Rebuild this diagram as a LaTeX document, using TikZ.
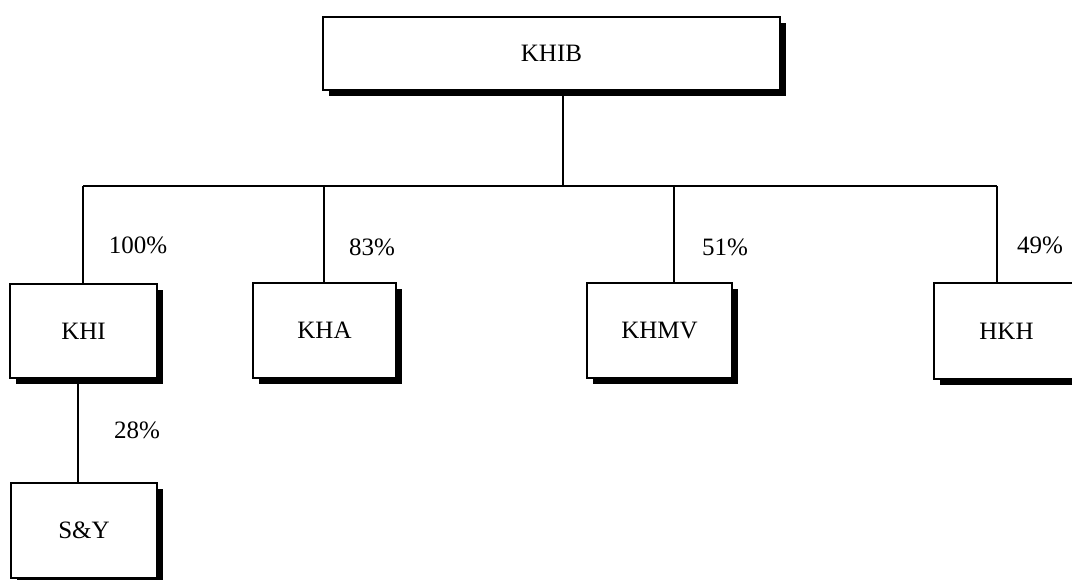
\documentclass[tikz,border=0pt]{standalone}
\usepackage{fontspec}
\setmainfont{Liberation Serif}
\usetikzlibrary{shadows}
\begin{document}
\begin{tikzpicture}[x=1pt,y=-1pt,
  box/.style={draw=black, line width=1.8pt, fill=white, rectangle, inner sep=0pt,
    font=\fontsize{25}{28}\selectfont,
    drop shadow={shadow xshift=6pt, shadow yshift=-6pt, fill=black, opacity=1}},
  pct/.style={font=\fontsize{25}{28}\selectfont, inner sep=0pt},
  conn/.style={line width=1.8pt}]
\useasboundingbox (0,0) rectangle (1072,579);
\clip (0,0) rectangle (1072,579);
\fill[white] (0,0) rectangle (1072,579);

\node[box, minimum width=457pt, minimum height=73pt] (khib) at (551.5,53.5) {KHIB};
\node[box, minimum width=147pt, minimum height=94pt] (khi) at (83.5,331) {KHI};
\node[box, minimum width=143pt, minimum height=95pt] (kha) at (324.5,330.5) {KHA};
\node[box, minimum width=145pt, minimum height=95pt] (khmv) at (659.5,330.5) {KHMV};
\node[box, minimum width=145pt, minimum height=96pt] (hkh) at (1006.5,331) {HKH};
\node[box, minimum width=146pt, minimum height=95pt] (sy) at (84,530.5) {S\&Y};

\coordinate (bus) at (563,186);
\coordinate (khibout) at ([xshift=11.5pt]khib.south);
\coordinate (khitop) at ([xshift=-0.5pt]khi.north);
\coordinate (khatop) at ([xshift=-0.5pt]kha.north);
\coordinate (khmvtop) at ([xshift=14.5pt]khmv.north);
\coordinate (hkhtop) at ([xshift=-9.5pt]hkh.north);
\coordinate (khiout) at ([xshift=-5.5pt]khi.south);

\draw[conn] (khibout) -- (bus);
\draw[conn] (khitop |- bus) -- (hkhtop |- bus);
\draw[conn] (khitop |- bus) -- (khitop);
\draw[conn] (khatop |- bus) -- (khatop);
\draw[conn] (khmvtop |- bus) -- (khmvtop);
\draw[conn] (hkhtop |- bus) -- (hkhtop);
\draw[conn] (khiout) -- (khiout |- sy.north);

\node[pct] (p100) at (138,245) {100\%};
\node[pct] (p83) at (372,247) {83\%};
\node[pct] (p51) at (725,247) {51\%};
\node[pct] (p49) at (1040,245) {49\%};
\node[pct] (p28) at (137,430) {28\%};
\end{tikzpicture}
\end{document}
